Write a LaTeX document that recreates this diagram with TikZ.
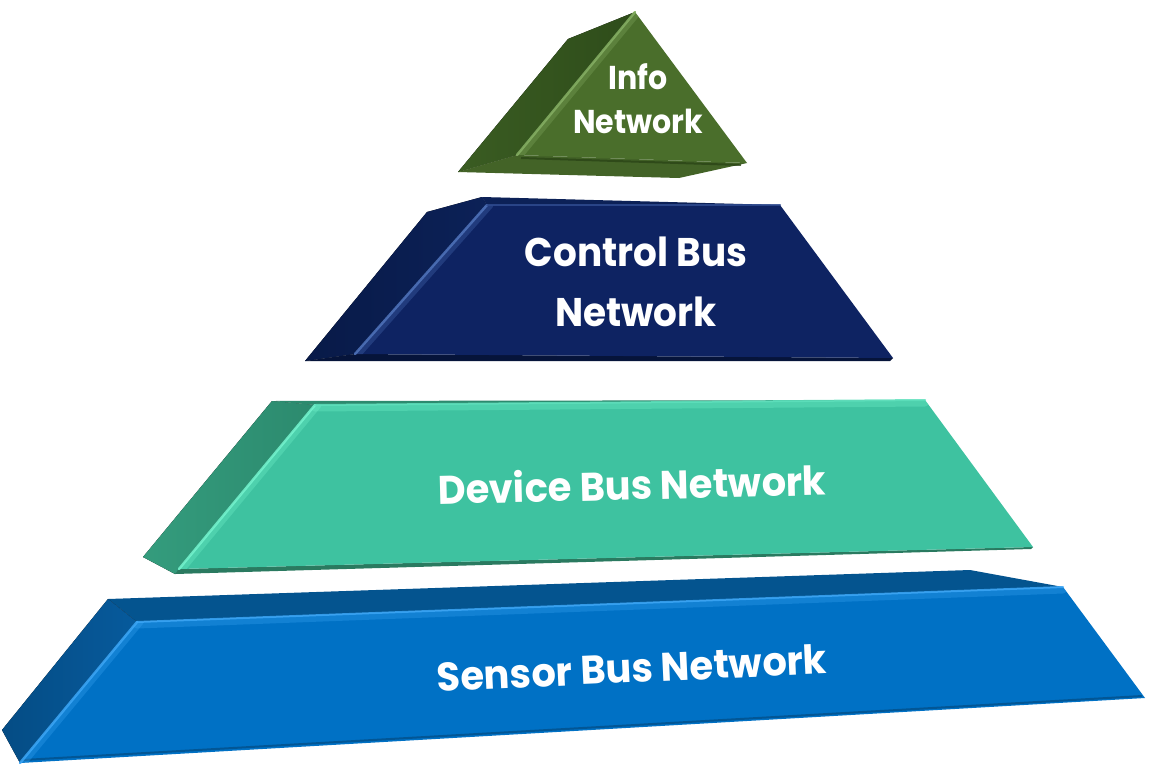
\documentclass[tikz,border=0pt]{standalone}
\usepackage{fontspec}
\usepackage{graphicx}
\usetikzlibrary{calc}
\newfontfamily\labfont{Poppins}
\definecolor{gFront}{HTML}{4A6E2B}
\definecolor{gSide}{HTML}{2E4C1A}
\definecolor{gSideL}{HTML}{3A5C22}
\definecolor{gHi}{HTML}{86B064}
\definecolor{gShadow}{HTML}{2A4416}
\definecolor{nFront}{HTML}{0E2362}
\definecolor{nSide}{HTML}{081A48}
\definecolor{nSideL}{HTML}{0C2157}
\definecolor{nHi}{HTML}{5074BC}
\definecolor{nShadow}{HTML}{06143A}
\definecolor{tFront}{HTML}{3EC2A0}
\definecolor{tSide}{HTML}{2C8A6E}
\definecolor{tSideL}{HTML}{349C7D}
\definecolor{tHi}{HTML}{74F4CE}
\definecolor{tShadow}{HTML}{2A7A60}
\definecolor{bFront}{HTML}{0071C5}
\definecolor{bTop}{HTML}{04548F}
\definecolor{bSide}{HTML}{065A9C}
\definecolor{bHi}{HTML}{3CA6F6}
\definecolor{bShadow}{HTML}{03508A}
\begin{document}
\begin{tikzpicture}[x=1pt,y=-1pt,
  hiline/.style={line width=2.5pt, line cap=round, opacity=0.85},
  higlow/.style={line width=7pt, line cap=round, opacity=0.3},
  shline/.style={line width=2pt, opacity=0.8},
  lbl/.style={text=white, inner sep=0pt, align=center,
    font=\labfont\bfseries\fontsize{40}{60}\selectfont},
  lblsmall/.style={text=white, inner sep=0pt, align=center,
    font=\labfont\bfseries\fontsize{33}{44}\selectfont}]
\useasboundingbox (0,0) rectangle (1155,768);
\fill[white] (0,0) rectangle (1155,768);

% ---------- Sensor Bus Network ----------
\coordinate (sL) at (2,730);
\coordinate (sTL) at (108,599);
\coordinate (sTR) at (970,570);
\coordinate (sTR2) at (1063,587);
\coordinate (sBR) at (1145,698);
\coordinate (sB) at (20,763);
\coordinate (sFT) at (137,622);
\fill[bTop] (sTL) -- (sTR) -- (sTR2) -- (sFT) -- cycle;
\fill[left color=bSide!85!black, right color=bSide] (sL) -- (sTL) -- (sFT) -- (sB) -- cycle;
\fill[bFront] (sFT) -- (sTR2) -- (sBR) -- (sB) -- cycle;
\draw[shline, bShadow] ($(sB)+(3,-3)$) -- ($(sBR)+(-3,-2)$);
\begin{scope}
\clip (sFT) -- (sTR2) -- (sBR) -- (sB) -- cycle;
\draw[higlow, bHi] ($(sFT)+(3,0)$) -- ($(sB)+(3,0)$);
\draw[higlow, bHi] ($(sFT)+(0,3)$) -- ($(sTR2)+(0,3)$);
\end{scope}
\draw[hiline, bHi] (sFT) -- (sB);
\draw[hiline, bHi, line width=2pt] (sFT) -- (sTR2);

% ---------- Device Bus Network ----------
\coordinate (dL) at (143,557);
\coordinate (dTL) at (272,401);
\coordinate (dTR) at (925,400);
\coordinate (dBR) at (1033,547);
\coordinate (dB) at (175,574);
\coordinate (dFT) at (315,405);
\coordinate (dFB) at (179,569);
\fill[left color=tSideL, right color=tSide] (dL) -- (dTL) -- (dFT) -- (dFB) -- (dB) -- cycle;
\fill[tSide] (dTL) -- (dTR) -- (dFT) -- cycle;
\fill[tShadow] (dFB) -- (dBR) -- ($(dBR)+(-2,2)$) -- (dB) -- cycle;
\fill[tFront] (dFT) -- (dTR) -- (dBR) -- (dFB) -- cycle;
\begin{scope}
\clip (dFT) -- (dTR) -- (dBR) -- (dFB) -- cycle;
\draw[higlow, tHi] ($(dFT)+(3,0)$) -- ($(dFB)+(3,0)$);
\draw[higlow, tHi] ($(dFT)+(0,3)$) -- ($(dTR)+(0,3)$);
\end{scope}
\draw[hiline, tHi] (dFT) -- (dFB);
\draw[hiline, tHi!60!tFront, line width=2pt] (dFT) -- (dTR);

% ---------- Control Bus Network ----------
\coordinate (cTL) at (427,212);
\coordinate (cT) at (482,197);
\coordinate (cTR) at (780,205);
\coordinate (cBR) at (893,358);
\coordinate (cBL) at (305,361);
\coordinate (cFT) at (487,205);
\coordinate (cFL) at (355,354);
\fill[left color=nSide, right color=nSideL] (cBL) -- (cTL) -- (cT) -- (cFT) -- (cFL) -- cycle;
\fill[nSideL] (cT) -- (cTR) -- (cFT) -- cycle;
\fill[nShadow] (cFL) -- (cBR) -- ($(cBR)+(-3,3)$) -- (cBL) -- cycle;
\fill[nFront] (cFT) -- (cTR) -- (cBR) -- (cFL) -- cycle;
\begin{scope}
\clip (cFT) -- (cTR) -- (cBR) -- (cFL) -- cycle;
\draw[higlow, nHi] ($(cFT)+(3,0)$) -- ($(cFL)+(3,0)$);
\end{scope}
\draw[hiline, nHi] (cFT) -- (cFL);
\draw[hiline, nHi!50!nFront, line width=2pt] (cFT) -- (cTR);

% ---------- Info Network ----------
\coordinate (iA) at (635,12);
\coordinate (iTL) at (568,39);
\coordinate (iBL) at (458,172);
\coordinate (iFL) at (517,155);
\coordinate (iR) at (747,163);
\coordinate (iB) at (679,178);
\fill[left color=gSideL, right color=gSide] (iBL) -- (iTL) -- (iA) -- (iFL) -- cycle;
\fill[gFront!90!black] (iBL) -- (iFL) -- (iR) -- (iB) -- cycle;
\fill[gFront] (iA) -- (iR) -- (iFL) -- cycle;
\begin{scope}
\clip (iA) -- (iR) -- (iFL) -- cycle;
\draw[higlow, gHi] ($(iA)+(3,0)$) -- ($(iFL)+(3,0)$);
\end{scope}
\draw[shline, gShadow] ($(iFL)+(4,3)$) -- ($(iR)+(-6,2)$);
\draw[hiline, gHi] (iA) -- (iFL);

% ---------- Labels ----------
\node[lblsmall] (info) at (638,99) {\scalebox{0.91}[1]{Info}\\\scalebox{0.91}[1]{Network}};
\node[lbl] (control) at (636,282) {\scalebox{0.935}[1]{Control Bus}\\\scalebox{0.935}[1]{Network}};
\node[lbl, rotate=1.4] (device) at (632,484) {\scalebox{0.96}[1]{Device Bus Network}};
\node[lbl, rotate=2.6] (sensor) at (632,668) {\scalebox{0.96}[1]{Sensor Bus Network}};
\end{tikzpicture}
\end{document}
